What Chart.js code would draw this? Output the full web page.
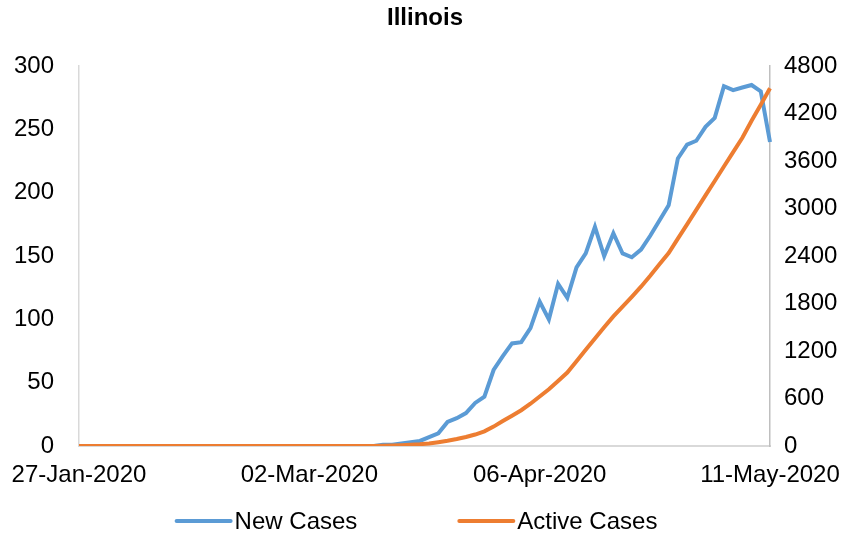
<!DOCTYPE html>
<html>
<head>
<meta charset="utf-8">
<title>Illinois</title>
<script src="https://cdn.jsdelivr.net/npm/chart.js@4.4.1/dist/chart.umd.min.js"></script>
<style>
  html, body { margin: 0; padding: 0; background: #fff; }
  #wrap { width: 850px; height: 537px; }
</style>
</head>
<body>
<div id="wrap"><canvas id="chart" width="850" height="537"></canvas></div>
<script>
// weekdays only, Mon 27-Jan-2020 .. Mon 11-May-2020
const dates = [
  "27-Jan-2020","28-Jan-2020","29-Jan-2020","30-Jan-2020","31-Jan-2020",
  "03-Feb-2020","04-Feb-2020","05-Feb-2020","06-Feb-2020","07-Feb-2020",
  "10-Feb-2020","11-Feb-2020","12-Feb-2020","13-Feb-2020","14-Feb-2020",
  "17-Feb-2020","18-Feb-2020","19-Feb-2020","20-Feb-2020","21-Feb-2020",
  "24-Feb-2020","25-Feb-2020","26-Feb-2020","27-Feb-2020","28-Feb-2020",
  "02-Mar-2020","03-Mar-2020","04-Mar-2020","05-Mar-2020","06-Mar-2020",
  "09-Mar-2020","10-Mar-2020","11-Mar-2020","12-Mar-2020","13-Mar-2020",
  "16-Mar-2020","17-Mar-2020","18-Mar-2020","19-Mar-2020","20-Mar-2020",
  "23-Mar-2020","24-Mar-2020","25-Mar-2020","26-Mar-2020","27-Mar-2020",
  "30-Mar-2020","31-Mar-2020","01-Apr-2020","02-Apr-2020","03-Apr-2020",
  "06-Apr-2020","07-Apr-2020","08-Apr-2020","09-Apr-2020","10-Apr-2020",
  "13-Apr-2020","14-Apr-2020","15-Apr-2020","16-Apr-2020","17-Apr-2020",
  "20-Apr-2020","21-Apr-2020","22-Apr-2020","23-Apr-2020","24-Apr-2020",
  "27-Apr-2020","28-Apr-2020","29-Apr-2020","30-Apr-2020","01-May-2020",
  "04-May-2020","05-May-2020","06-May-2020","07-May-2020","08-May-2020",
  "11-May-2020"
];

const newCases = [
  0,0,0,0,0, 0,0,0,0,0, 0,0,0,0,0, 0,0,0,0,0, 0,0,0,0,0,
  0,0,0,0,0, 0,0,0,1,1, 2,3,4,7,10, 19,22,26,34,39,
  60,71,81,82,93, 114,100,128,117,141, 152,173,150,168,152,
  149,155,166,178,190, 227,238,241,252,259, 284,281,283,285,280,
  240
];

const activeCases = [
  0,0,0,0,0, 0,0,0,0,0, 0,0,0,0,0, 0,0,0,0,0, 0,0,0,0,0,
  0,0,0,0,0, 0,0,0,3,5, 9,15,22,32,48, 66,88,114,145,185,
  245,315,383,452,534, 625,717,822,928,1071, 1216,1358,1500,1637,1760,
  1884,2012,2150,2295,2437, 2619,2800,2983,3165,3348, 3530,3712,3893,4109,4310,
  4520
];

const xTickLabels = ["27-Jan-2020", "02-Mar-2020", "06-Apr-2020", "11-May-2020"];
const leftTicks = [0, 50, 100, 150, 200, 250, 300];
const rightTicks = [0, 600, 1200, 1800, 2400, 3000, 3600, 4200, 4800];

const seriesNames = ["New Cases", "Active Cases"];
const seriesColors = ["#5B9BD5", "#ED7D31"];

const FONT = "'Liberation Sans', Arial, sans-serif";
const axisColor = "#d9d9d9";

// legend drawn by hand: short line + label, centered under the plot
const lineLegend = {
  id: "lineLegend",
  afterDraw(chart) {
    const ctx = chart.ctx;
    const lineLen = 54, gap = 4, spacing = 102;
    const y = 521;
    ctx.save();
    ctx.font = "24px " + FONT;
    const widths = chart.data.datasets.map(ds => ctx.measureText(ds.label).width);
    let total = spacing * (widths.length - 1);
    widths.forEach(w => { total += lineLen + gap + w; });
    let x = chart.width / 2 - 8 - total / 2;
    chart.data.datasets.forEach((ds, i) => {
      ctx.strokeStyle = ds.borderColor;
      ctx.lineWidth = 4;
      ctx.lineCap = "round";
      ctx.beginPath();
      ctx.moveTo(x, y);
      ctx.lineTo(x + lineLen, y);
      ctx.stroke();
      ctx.fillStyle = "#000";
      ctx.textBaseline = "middle";
      ctx.textAlign = "left";
      ctx.fillText(ds.label, x + lineLen + gap, y + 1);
      x += lineLen + gap + widths[i] + spacing;
    });
    ctx.restore();
  }
};

const ctx = document.getElementById("chart").getContext("2d");
new Chart(ctx, {
  type: "line",
  data: {
    labels: dates,
    datasets: [
      {
        label: seriesNames[0],
        data: newCases,
        yAxisID: "y",
        borderColor: seriesColors[0],
        backgroundColor: seriesColors[0],
        borderWidth: 4,
        pointRadius: 0,
        tension: 0,
        order: 2
      },
      {
        label: seriesNames[1],
        data: activeCases,
        yAxisID: "y2",
        borderColor: seriesColors[1],
        backgroundColor: seriesColors[1],
        borderWidth: 4,
        pointRadius: 0,
        tension: 0,
        order: 1
      }
    ]
  },
  options: {
    responsive: false,
    animation: false,
    layout: { padding: 0 },
    plugins: {
      legend: { display: false },
      tooltip: { enabled: false },
      title: {
        display: true,
        text: "Illinois",
        color: "#000",
        font: { family: FONT, size: 24, weight: "bold" },
        padding: { top: 4, bottom: 33.2 }
      }
    },
    scales: {
      x: {
        type: "category",
        offset: false,
        grid: { display: false, drawTicks: false },
        border: { display: true, color: axisColor, width: 2 },
        ticks: {
          autoSkip: false,
          maxRotation: 0,
          padding: 15,
          color: "#000",
          font: { family: FONT, size: 24 },
          callback: function (val, index) {
            const lbl = this.getLabelForValue(val);
            return xTickLabels.includes(lbl) ? lbl : null;
          }
        },
        afterFit: (scale) => {
          scale.height = 91;
          // edge labels fit inside the y axis space, no extra side padding
          scale.paddingLeft = 0;
          scale.paddingRight = 0;
        }
      },
      y: {
        position: "left",
        min: leftTicks[0],
        max: leftTicks[leftTicks.length - 1],
        grid: { display: false, drawTicks: false },
        border: { display: true, color: axisColor, width: 1.5 },
        ticks: {
          stepSize: leftTicks[1] - leftTicks[0],
          padding: 25,
          color: "#000",
          font: { family: FONT, size: 24 },
          callback: (v) => v
        },
        afterFit: (scale) => { scale.width = 79; }
      },
      y2: {
        position: "right",
        min: rightTicks[0],
        max: rightTicks[rightTicks.length - 1],
        grid: { display: false, drawTicks: false },
        border: { display: true, color: "#bfbfbf", width: 1.5 },
        ticks: {
          stepSize: rightTicks[1] - rightTicks[0],
          padding: 14,
          color: "#000",
          font: { family: FONT, size: 24 },
          callback: (v) => v
        },
        afterFit: (scale) => { scale.width = 80; }
      }
    }
  },
  plugins: [lineLegend]
});
</script>
</body>
</html>
